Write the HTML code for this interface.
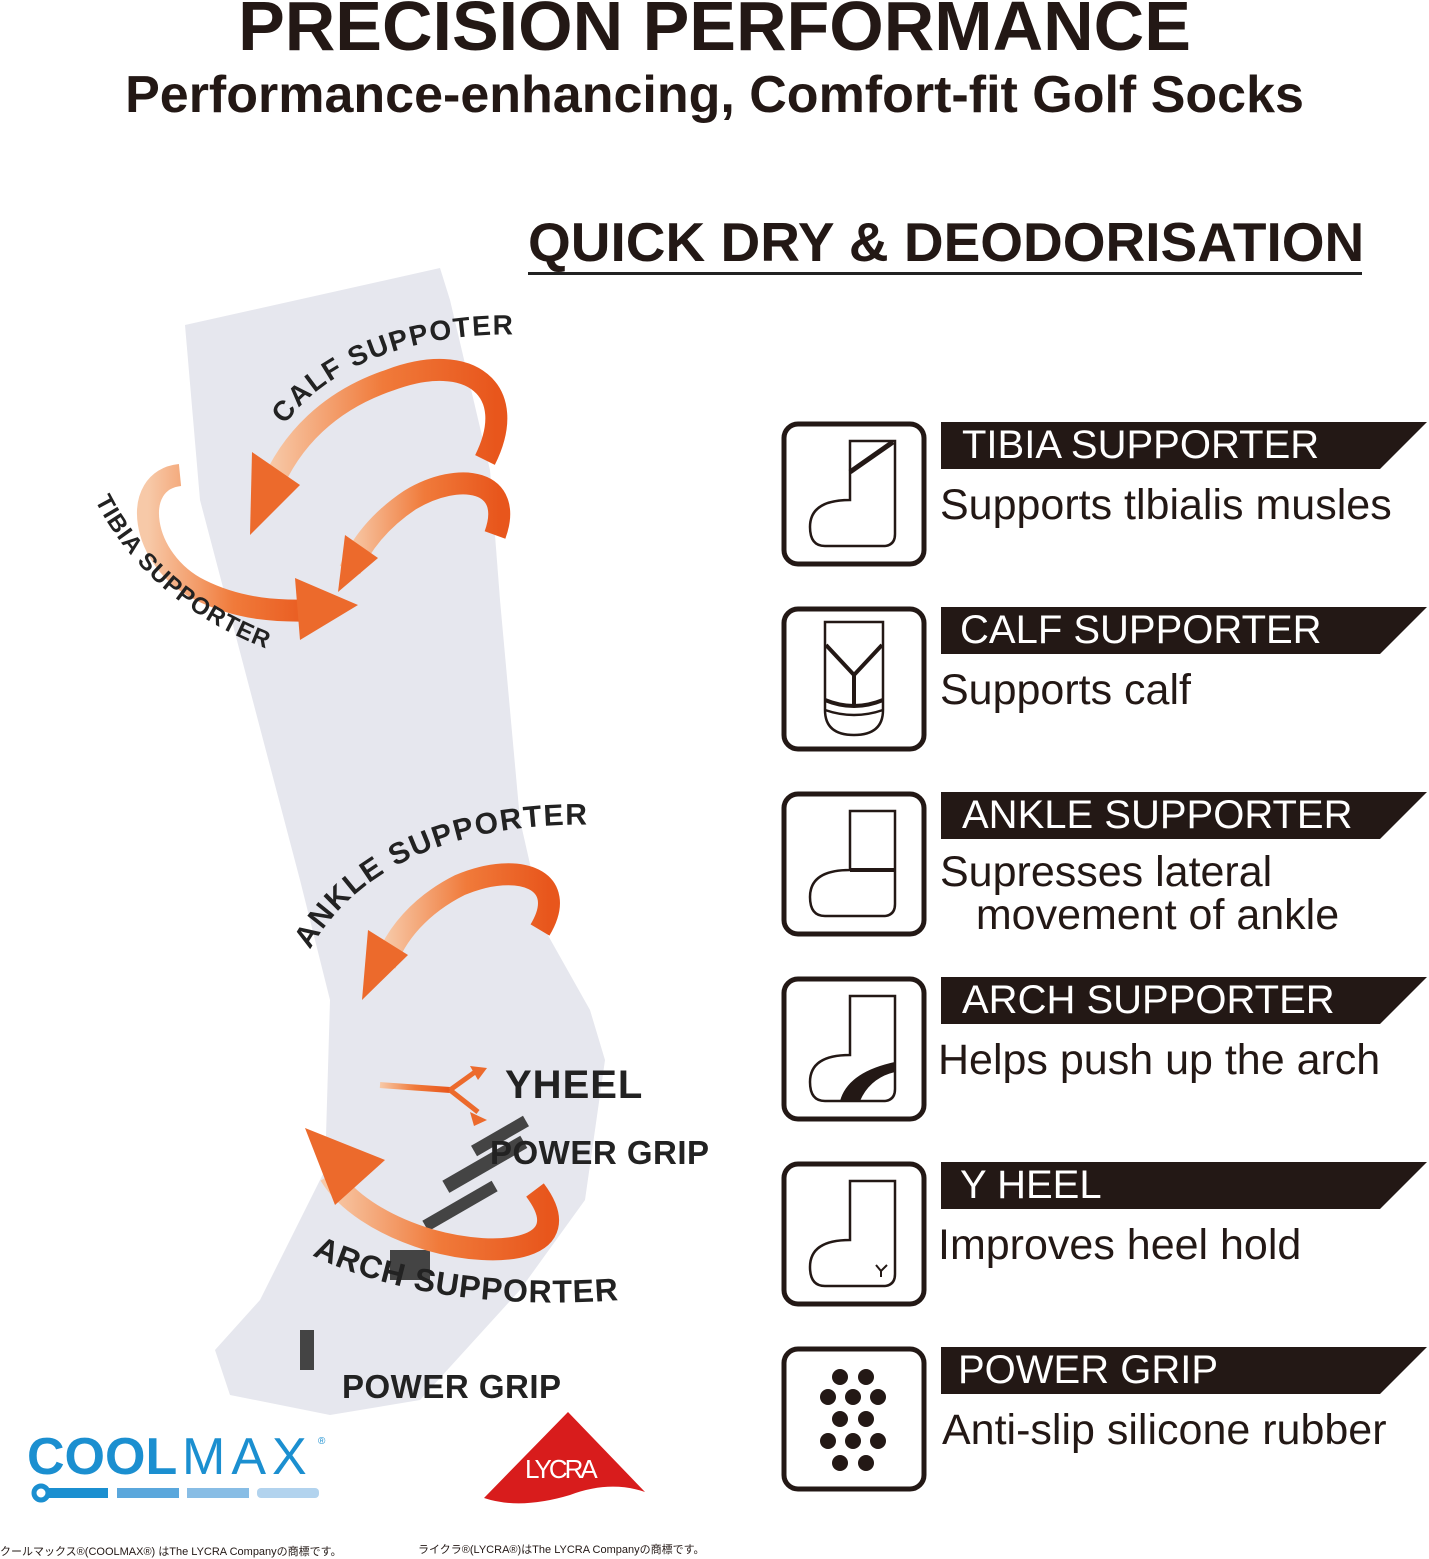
<!DOCTYPE html>
<html><head><meta charset="utf-8"><style>
body{margin:0;width:1429px;height:1557px;background:#fff;position:relative;overflow:hidden;font-family:"Liberation Sans","Noto Sans CJK JP",sans-serif;}
.t{position:absolute;white-space:nowrap;}
.d{font-size:43px;color:#231815;}
</style></head><body>
<svg width="1429" height="1557" style="position:absolute;left:0;top:0" xmlns="http://www.w3.org/2000/svg">
<defs>
<linearGradient id="og" x1="0" y1="0" x2="1" y2="0"><stop offset="0" stop-color="#f7c9a8"/><stop offset="0.5" stop-color="#f07a3a"/><stop offset="1" stop-color="#e8561c"/></linearGradient>
</defs>
<path d="M185,325 L440,268 L450,300 L490,470 L500,600 L520,820 L545,930 L590,1010 L605,1060 L585,1200 L520,1290 L420,1400 L330,1415 L230,1395 L215,1350 L260,1300 L325,1170 L330,1000 L300,880 L250,690 L200,500 Z" fill="#e6e7ee"/>
<g fill="#444">
<rect x="470" y="1130" width="60" height="12" transform="rotate(-30 500 1136)"/>
<rect x="440" y="1160" width="90" height="14" transform="rotate(-30 480 1166)"/>
<rect x="420" y="1200" width="80" height="12" transform="rotate(-30 460 1206)"/>
<rect x="390" y="1250" width="40" height="30"/>
<rect x="300" y="1330" width="14" height="40"/>
</g>
<g fill="none" stroke="url(#og)" stroke-width="22" stroke-linecap="butt">
<path d="M485,460 C520,390 470,350 390,380 C330,400 290,440 270,490"/>
<path d="M495,535 C515,480 460,470 410,500 C380,520 360,545 350,570"/>
<path d="M180,475 C130,480 140,560 200,590 C240,610 280,612 320,610"/>
<path d="M540,930 C570,880 520,860 460,885 C420,905 395,935 385,965"/>
<path d="M535,1190 C580,1250 500,1260 430,1240 C380,1225 345,1200 330,1175"/>
</g>
<g fill="#ec6a2c">
<polygon points="250,535 252,452 300,485"/>
<polygon points="338,592 345,535 378,558"/>
<polygon points="358,605 300,640 295,578"/>
<polygon points="362,1000 368,930 408,955"/>
<polygon points="305,1128 385,1160 335,1205"/>
<path d="M380,1085 L450,1090" stroke="url(#og)" stroke-width="6"/>
<path d="M450,1090 L475,1072 M450,1090 L478,1112" stroke="#ec6a2c" stroke-width="5"/>
<polygon points="487,1068 470,1066 478,1080"/>
<polygon points="487,1120 470,1112 474,1126"/>
</g>
<path id="p1" d="M285,425 C330,360 430,330 530,335" fill="none"/>
<text font-family="Liberation Sans" font-weight="bold" font-size="28" fill="#222" letter-spacing="1.5"><textPath href="#p1">CALF SUPPOTER</textPath></text>
<path id="p2" d="M95,500 C130,570 190,620 270,650" fill="none"/>
<text font-family="Liberation Sans" font-weight="bold" font-size="24" fill="#222" letter-spacing="1"><textPath href="#p2">TIBIA SUPPORTER</textPath></text>
<path id="p3" d="M310,950 C360,860 470,820 605,825" fill="none"/>
<text font-family="Liberation Sans" font-weight="bold" font-size="30" fill="#222" letter-spacing="1.5"><textPath href="#p3">ANKLE SUPPORTER</textPath></text>
<path id="p4" d="M312,1255 C380,1290 490,1310 620,1300" fill="none"/>
<text font-family="Liberation Sans" font-weight="bold" font-size="32" fill="#222" letter-spacing="1"><textPath href="#p4">ARCH SUPPORTER</textPath></text>
<text x="505" y="1098" font-family="Liberation Sans" font-weight="bold" font-size="40" fill="#222" letter-spacing="1">YHEEL</text>
<text x="490" y="1164" font-family="Liberation Sans" font-weight="bold" font-size="33" fill="#222" letter-spacing="0.5">POWER GRIP</text>
<text x="342" y="1398" font-family="Liberation Sans" font-weight="bold" font-size="33" fill="#222" letter-spacing="0.5">POWER GRIP</text>
<rect x="528" y="272" width="834" height="3" fill="#222"/>
<g stroke="#231815" fill="none">
<g stroke-width="5">
<rect x="784" y="424" width="140" height="140" rx="14"/>
<rect x="784" y="609" width="140" height="140" rx="14"/>
<rect x="784" y="794" width="140" height="140" rx="14"/>
<rect x="784" y="979" width="140" height="140" rx="14"/>
<rect x="784" y="1164" width="140" height="140" rx="14"/>
<rect x="784" y="1349" width="140" height="140" rx="14"/>
</g>
<g stroke-width="2.5">
<path d="M850,441 H895 V534 Q895,546 883,546 H825 Q810,546 810,527 Q810,500 850,500 Z"/>
<path d="M850,626 H895 V719 Q895,731 883,731 H825 Q810,731 810,712 Q810,685 850,685 Z" transform="translate(0,185)"/>
<path d="M850,996 H895 V1089 Q895,1101 883,1101 H825 Q810,1101 810,1082 Q810,1055 850,1055 Z"/>
<path d="M850,1181 H895 V1274 Q895,1286 883,1286 H825 Q810,1286 810,1267 Q810,1240 850,1240 Z"/>
<path d="M825,622 H883 V710 Q883,735 854,735 Q825,735 825,710 Z"/>
<path d="M825,710 Q854,720 883,710"/>
</g>
<path d="M850,472 L893,442" stroke-width="5"/>
<path d="M826,645 L854,675 L882,645 M854,675 V705" stroke-width="4"/>
<path d="M825,700 Q854,712 883,700" stroke-width="4"/>
<path d="M850,870 H895" stroke-width="4"/>
<path d="M876,1265 l5,6 l6,-6 M881,1271 v6" stroke-width="2"/>
</g>
<path d="M840,1101 Q848,1072 895,1062 V1072 Q870,1078 860,1101 Z" fill="#231815"/>
<g fill="#231815">
<circle cx="840" cy="1377" r="8"/><circle cx="866" cy="1377" r="8"/>
<circle cx="828" cy="1397" r="8"/><circle cx="853" cy="1397" r="8"/><circle cx="878" cy="1397" r="8"/>
<circle cx="840" cy="1419" r="8"/><circle cx="866" cy="1419" r="8"/>
<circle cx="828" cy="1441" r="8"/><circle cx="853" cy="1441" r="8"/><circle cx="878" cy="1441" r="8"/>
<circle cx="840" cy="1463" r="8"/><circle cx="866" cy="1463" r="8"/>
</g>
<g fill="#231815">
<polygon points="941,422 1427,422 1380,469 941,469"/>
<polygon points="941,607 1427,607 1380,654 941,654"/>
<polygon points="941,792 1427,792 1380,839 941,839"/>
<polygon points="941,977 1427,977 1380,1024 941,1024"/>
<polygon points="941,1162 1427,1162 1380,1209 941,1209"/>
<polygon points="941,1347 1427,1347 1380,1394 941,1394"/>
</g>
<circle cx="41" cy="1493" r="7" fill="none" stroke="#1b8fd0" stroke-width="5"/>
<rect x="46" y="1488" width="62" height="10" fill="#1b8fd0"/>
<rect x="117" y="1488" width="62" height="10" fill="#5aa7dc"/>
<rect x="187" y="1488" width="62" height="10" fill="#88bde5"/>
<rect x="257" y="1488" width="62" height="10" rx="4" fill="#b2d3ee"/>
<text x="27" y="1474" font-family="Liberation Sans" font-weight="bold" font-size="52" fill="#1b8fd0">COOL</text>
<text x="182" y="1474" font-family="Liberation Sans" font-size="52" fill="#1b8fd0" letter-spacing="6">MAX</text>
<text x="318" y="1444" font-family="Liberation Sans" font-size="10" fill="#1b8fd0">®</text>
<path d="M568,1412 L645,1492 Q610,1480 570,1495 Q520,1510 484,1498 Z" fill="#d81c1c"/>
<text x="525" y="1478" font-family="Liberation Sans" font-size="26" fill="#fff" letter-spacing="-3">LYCRA</text>
</svg>
<div class="t" style="left:0;right:0;text-align:center;top:-14px;font-size:70px;font-weight:bold;color:#231815;">PRECISION PERFORMANCE</div>
<div class="t" style="left:0;right:0;text-align:center;top:65px;font-size:52px;font-weight:bold;color:#231815;">Performance-enhancing, Comfort-fit Golf Socks</div>
<div class="t" style="left:528px;top:210px;font-size:55px;font-weight:bold;color:#231815;">QUICK DRY &amp; DEODORISATION</div>
<div class="t" style="left:962px;top:423px;font-size:40px;color:#fff;">TIBIA SUPPORTER</div>
<div class="t d" style="left:940px;top:481px;">Supports tlbialis musles</div>
<div class="t" style="left:960px;top:608px;font-size:40px;color:#fff;">CALF SUPPORTER</div>
<div class="t d" style="left:940px;top:666px;">Supports calf</div>
<div class="t" style="left:962px;top:793px;font-size:40px;color:#fff;">ANKLE SUPPORTER</div>
<div class="t d" style="left:940px;top:851px;line-height:43px;">Supresses lateral<br>&nbsp;&nbsp;&nbsp;movement of ankle</div>
<div class="t" style="left:962px;top:978px;font-size:40px;color:#fff;">ARCH SUPPORTER</div>
<div class="t d" style="left:938px;top:1036px;">Helps push up the arch</div>
<div class="t" style="left:960px;top:1163px;font-size:40px;color:#fff;">Y HEEL</div>
<div class="t d" style="left:938px;top:1221px;">Improves heel hold</div>
<div class="t" style="left:958px;top:1348px;font-size:40px;color:#fff;">POWER GRIP</div>
<div class="t d" style="left:942px;top:1406px;">Anti-slip silicone rubber</div>
<div class="t" style="left:0;top:1543px;font-size:11px;color:#231815;">クールマックス®(COOLMAX®) はThe LYCRA Companyの商標です。</div>
<div class="t" style="left:418px;top:1541px;font-size:11px;color:#231815;">ライクラ®(LYCRA®)はThe LYCRA Companyの商標です。</div>
</body></html>
